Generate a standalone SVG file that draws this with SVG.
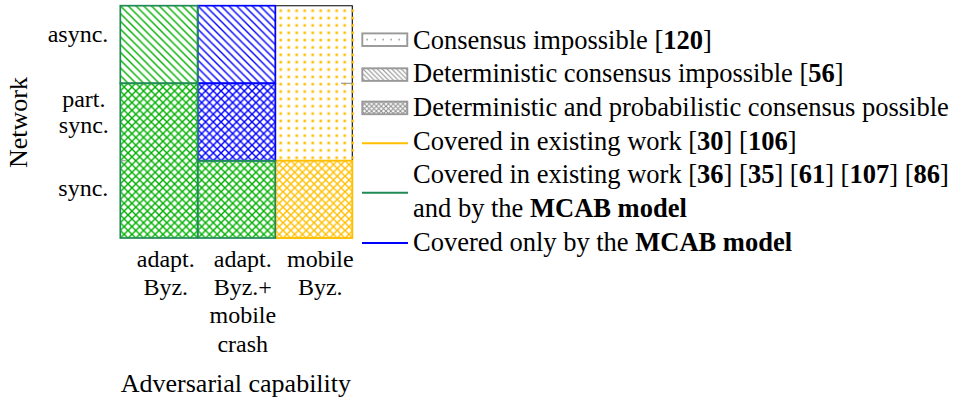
<svg xmlns="http://www.w3.org/2000/svg" width="955" height="402" viewBox="0 0 955 402">
  <style>
    text { font-family: "Liberation Serif", "Times New Roman", serif; fill: #000; }
    .tick { font-size: 24px; }
    .axis { font-size: 26px; }
    .leg { font-size: 26.5px; }
    .b { font-weight: bold; }
    .gEdge { fill: none; stroke: #1f8a55; stroke-width: 1.7; }
    .bEdge { fill: none; stroke: #0000ff; stroke-width: 1.7; }
    .yEdge { fill: none; stroke: #ffbf00; stroke-width: 1.9; }
    .swatch { stroke: #999; stroke-width: 1.9; }
  </style>
  <defs>
    <!-- north-west hatching -->
    <pattern id="hatchG" patternUnits="userSpaceOnUse" width="7.75" height="7.75" x="120.3" y="5.7">
      <path d="M0,0 L7.75,7.75 M-2,5.75 L2,9.75 M5.75,-2 L9.75,2" stroke="#00b000" stroke-width="1.4"/>
    </pattern>
    <pattern id="hatchB" patternUnits="userSpaceOnUse" width="7.75" height="7.75" x="197.7" y="5.7">
      <path d="M0,0 L7.75,7.75 M-2,5.75 L2,9.75 M5.75,-2 L9.75,2" stroke="#0000ff" stroke-width="1.4"/>
    </pattern>
    <!-- diagonal crosshatching -->
    <pattern id="crossG" patternUnits="userSpaceOnUse" width="7.75" height="7.75" x="120.3" y="5.7">
      <path d="M0,0 L7.75,7.75 M7.75,0 L0,7.75" stroke="#00b000" stroke-width="1.4"/>
    </pattern>
    <pattern id="crossB" patternUnits="userSpaceOnUse" width="7.75" height="7.75" x="120.3" y="5.7">
      <path d="M0,0 L7.75,7.75 M7.75,0 L0,7.75" stroke="#0000ff" stroke-width="1.4"/>
    </pattern>
    <pattern id="crossY" patternUnits="userSpaceOnUse" width="7.75" height="7.75" x="120.3" y="5.7">
      <path d="M0,0 L7.75,7.75 M7.75,0 L0,7.75" stroke="#ffbf00" stroke-width="1.4"/>
    </pattern>
    <!-- dots -->
    <pattern id="dotsY" patternUnits="userSpaceOnUse" width="8" height="7.35" x="276.7" y="7">
      <rect x="2.7" y="2.4" width="2.6" height="2.6" fill="#ffbf00"/>
    </pattern>
    <!-- legend swatch fills -->
    <pattern id="hatchK" patternUnits="userSpaceOnUse" width="4.8" height="4.8" x="362" y="68">
      <path d="M0,0 L4.8,4.8 M-2,2.8 L2,6.8 M2.8,-2 L6.8,2" stroke="#8c8c8c" stroke-width="1"/>
    </pattern>
    <pattern id="crossK" patternUnits="userSpaceOnUse" width="4.8" height="4.8" x="362" y="101.5">
      <path d="M0,0 L4.8,4.8 M4.8,0 L0,4.8" stroke="#8c8c8c" stroke-width="1"/>
    </pattern>
    <pattern id="dotsK" patternUnits="userSpaceOnUse" width="8" height="12.6" x="362" y="33.4">
      <rect x="4.4" y="5.5" width="1.5" height="1.5" fill="#8c8c8c"/>
    </pattern>
  </defs>

  <!-- axis titles -->
  <text class="axis" transform="translate(26.5,122.5) rotate(-90)" text-anchor="middle">Network</text>
  <text class="axis" x="235.9" y="391.7" text-anchor="middle">Adversarial capability</text>

  <!-- network ticks -->
  <g id="ticks-network" class="tick">
    <text x="108.3" y="41.7" text-anchor="end">async.</text>
    <text x="83.8" y="107.3" text-anchor="middle">part.</text>
    <text x="83.8" y="133.3" text-anchor="middle">sync.</text>
    <text x="108.3" y="195.7" text-anchor="end">sync.</text>
  </g>

  <!-- adversary ticks -->
  <g id="ticks-adversary" class="tick" text-anchor="middle">
    <text x="165.8" y="266.7">adapt.</text>
    <text x="165.8" y="295">Byz.</text>
    <text x="242.8" y="266.7">adapt.</text>
    <text x="242.8" y="295">Byz.+</text>
    <text x="242.8" y="323.3">mobile</text>
    <text x="242.8" y="351.7">crash</text>
    <text x="320.3" y="266.7">mobile</text>
    <text x="320.3" y="295">Byz.</text>
  </g>

  <!-- cells -->
  <g id="cell-mobile-async">
    <path d="M275.3,5.7 H352.3 V160.7" fill="none" stroke="#000" stroke-width="1.1"/>
    <rect x="275.3" y="5.7" width="79" height="155" fill="url(#dotsY)"/>
    <line x1="275.6" y1="5.7" x2="275.6" y2="160.7" stroke="#ffbf00" stroke-width="1.3"/>
    <line x1="341" y1="83.3" x2="352.3" y2="83.3" stroke="#8a8a8a" stroke-width="1"/>
  </g>
  <g id="cell-mobile-sync">
    <rect x="275.3" y="160.7" width="77" height="77.3" fill="url(#crossY)"/>
    <rect class="yEdge" x="275.3" y="160.7" width="77" height="77.3"/>
  </g>
  <g id="cell-adaptmobile-async">
    <rect x="197.7" y="5.7" width="77.6" height="77.6" fill="url(#hatchB)"/>
    <rect class="bEdge" x="197.7" y="5.7" width="77.6" height="77.6"/>
  </g>
  <g id="cell-adaptmobile-psync">
    <rect x="197.7" y="83.3" width="77.6" height="77.4" fill="url(#crossB)"/>
    <rect class="bEdge" x="197.7" y="83.3" width="77.6" height="77.4"/>
  </g>
  <g id="cell-adaptmobile-sync">
    <rect x="197.7" y="160.7" width="77.6" height="77.3" fill="url(#crossG)"/>
    <rect class="gEdge" x="197.7" y="160.7" width="77.6" height="77.3"/>
  </g>
  <g id="cell-adapt-async">
    <rect x="120.3" y="5.7" width="77.4" height="77.6" fill="url(#hatchG)"/>
    <rect class="gEdge" x="120.3" y="5.7" width="77.4" height="77.6"/>
  </g>
  <g id="cell-adapt-sync">
    <rect x="120.3" y="83.3" width="77.4" height="154.7" fill="url(#crossG)"/>
    <rect class="gEdge" x="120.3" y="83.3" width="77.4" height="154.7"/>
    <line x1="121" y1="160.7" x2="126" y2="160.7" stroke="#9a9a9a" stroke-width="1"/>
  </g>

  <!-- connectors: none in this chart -->
  <g id="connectors"></g>

  <!-- legend -->
  <g id="legend-impossible">
    <rect class="swatch" x="362.3" y="33.4" width="45" height="12.6" fill="url(#dotsK)"/>
    <text class="leg" x="413" y="48.5">Consensus impossible [<tspan class="b">120</tspan>]</text>
  </g>
  <g id="legend-det-impossible">
    <rect class="swatch" x="362.3" y="68.3" width="45" height="12.6" fill="url(#hatchK)"/>
    <text class="leg" x="413" y="82.2">Deterministic consensus impossible [<tspan class="b">56</tspan>]</text>
  </g>
  <g id="legend-possible">
    <rect class="swatch" x="362.3" y="101.6" width="45" height="12.6" fill="url(#crossK)"/>
    <text class="leg" x="413" y="116">Deterministic and probabilistic consensus possible</text>
  </g>
  <g id="legend-existing">
    <line x1="362" y1="143.3" x2="408" y2="143.3" stroke="#ffbf00" stroke-width="1.9"/>
    <text class="leg" x="413" y="149.6">Covered in existing work [<tspan class="b">30</tspan>] [<tspan class="b">106</tspan>]</text>
  </g>
  <g id="legend-existing-mcab">
    <line x1="362" y1="192.7" x2="408" y2="192.7" stroke="#1f8a55" stroke-width="1.9"/>
    <text class="leg" x="413" y="183.3">Covered in existing work [<tspan class="b">36</tspan>] [<tspan class="b">35</tspan>] [<tspan class="b">61</tspan>] [<tspan class="b">107</tspan>] [<tspan class="b">86</tspan>]</text>
    <text class="leg" x="413" y="217">and by the <tspan class="b">MCAB model</tspan></text>
  </g>
  <g id="legend-mcab-only">
    <line x1="362" y1="243" x2="408" y2="243" stroke="#0000ff" stroke-width="1.9"/>
    <text class="leg" x="413" y="250.7">Covered only by the <tspan class="b">MCAB model</tspan></text>
  </g>
</svg>
